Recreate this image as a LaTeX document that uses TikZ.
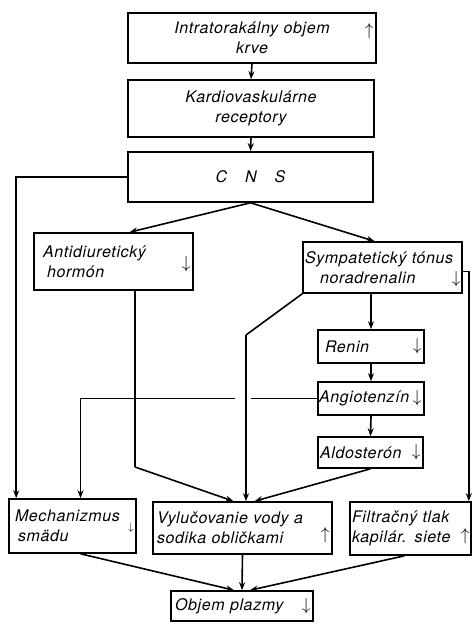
\documentclass[tikz,border=0pt]{standalone}
\usepackage{fontspec}
\setmainfont{TeX Gyre Heros}[LetterSpace=4]
\usepackage{tikz}
\usetikzlibrary{arrows.meta,positioning,calc}

\begin{document}
\begin{tikzpicture}[x=1pt,y=-1pt,
    font=\itshape\fontsize{16}{20}\selectfont,
    blok/.style={draw,line width=1.6pt,inner xsep=4pt,inner ysep=2pt,align=left},
    sipka/.style={-{Stealth[length=8pt,width=6pt]},line width=1.6pt},
    ciara/.style={line width=1.6pt},
    znak/.style={anchor=east,inner sep=3pt}]
    \useasboundingbox (0,0) rectangle (472,624);

    % horna cast
    \node[blok,align=center,text width=240pt,minimum height=50pt,
        label={[znak,yshift=7pt]east:$\uparrow$}] (intra) at (252,38)
        {Intratorakálny objem\\krve\hspace*{30pt}};
    \node[blok,align=center,text width=238pt,minimum height=57pt] (kardio) at (251,108.5)
        {Kardiovaskulárne\hspace*{34pt}\\receptory\hspace*{34pt}};
    \node[blok,align=center,text width=237pt,minimum height=50pt] (cns) at (250.5,177)
        {C\hspace{18pt}N\hspace{18pt}S\hspace*{42pt}};

    % stredna cast
    \node[blok,text width=151pt,minimum height=57pt,
        label={[znak,yshift=-3pt]east:$\Big\downarrow$}] (adh) at (113.5,261.5)
        {\hspace*{5pt}Antidiuretický\\\hspace*{9pt}hormón};
    \node[blok,inner xsep=2pt,text width=155pt,minimum height=51pt,
        label={[znak,inner sep=2pt,yshift=-12pt]east:$\downarrow$}] (symp) at (382.5,267.5)
        {Sympatetický tónus\\\hspace*{15pt}noradrenalin};
    \node[blok,text width=98pt,minimum height=33pt,
        label={[znak]east:$\downarrow$}] (renin) at (371,346.5) {\hspace*{3pt}Renin};
    \node[blok,inner xsep=1pt,text width=104pt,minimum height=33pt,
        label={[znak]east:$\downarrow$}] (angio) at (371,398.5) {Angiotenzín};
    \node[blok,inner xsep=2pt,text width=101pt,minimum height=31pt,
        label={[znak]east:$\downarrow$}] (aldo) at (370.5,452.5) {Aldosterón};

    % spodna cast
    \node[blok,text width=119pt,minimum height=54pt,
        label={[znak,yshift=-2pt]east:$\scriptstyle\downarrow$}] (mech) at (72.5,526)
        {\hspace*{2pt}Mechanizmus\\\hspace*{5pt}smädu};
    \node[blok,text width=171pt,minimum height=52pt,
        label={[znak,yshift=-7pt]east:$\uparrow$}] (vyluc) at (242.5,528)
        {Vylučovanie vody a\\sodika obličkami};
    \node[blok,inner xsep=2pt,text width=117pt,minimum height=53pt,
        label={[znak,inner sep=2pt,yshift=-8pt]east:$\uparrow$}] (filt) at (410.5,528.5)
        {Filtračný tlak\\kapilár. siete};
    \node[blok,text width=134pt,minimum height=30pt,
        label={[znak]east:$\downarrow$}] (objem) at (242,606) {Objem plazmy};

    \coordinate (adhzlom) at (135,467);
    \coordinate (sympzlom) at (246,335);

    % spojnice
    \draw[sipka] (intra.south) -- (kardio.north);
    \draw[sipka] (kardio.south) -- (cns.north);
    \draw[sipka] (cns.west) -| ($(mech.north west)+(8,0)$);
    \draw[sipka] (cns.south) -- ($(adh.north)+(16,0)$);
    \draw[sipka] (cns.south) -- ($(symp.north)+(-8,0)$);
    \draw[ciara] (adh.south -| adhzlom) -- (adhzlom);
    \draw[sipka] (adhzlom) -- ($(vyluc.north)+(-9,0)$);
    \draw[ciara] (symp.south west) -- (sympzlom);
    \draw[sipka] (sympzlom) -- (sympzlom |- vyluc.north);
    \draw[sipka] (renin.north |- symp.south) -- (renin.north);
    \draw[sipka] (renin.south) -- (angio.north);
    \draw[sipka] (angio.south) -- (aldo.north);
    \draw[sipka] (aldo.south) -- ($(vyluc.north)+(12,0)$);
    \draw[ciara] (angio.west) -- ($(sympzlom |- angio.west)+(5,0)$);
    \draw[sipka] ($(sympzlom |- angio.west)+(-11,0)$) -| ($(mech.north)+(8,0)$);
    \draw[sipka] ($(symp.east)+(0,4)$) -| ($(filt.north east)+(-3,0)$);
    \draw[sipka] ($(mech.south)+(8,0)$) -- ($(objem.north)+(-8,0)$);
    \draw[sipka] (vyluc.south) -- (objem.north);
    \draw[sipka] ($(filt.south)+(-6,0)$) -- ($(objem.north)+(8,0)$);
\end{tikzpicture}
\end{document}
